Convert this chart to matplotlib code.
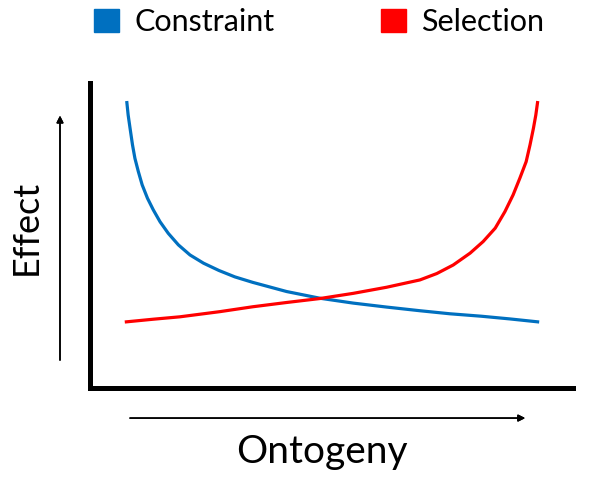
import matplotlib.pyplot as plt
from matplotlib.patches import Patch

plt.rcParams['font.family'] = ['Lato', 'DejaVu Sans']

# values, axes span 0-100 in both directions
ontogeny_constraint = [7.6, 7.9, 8.3, 8.8, 9.3, 10.0, 10.8, 11.9, 13.1, 14.5,
                       16.2, 18.3, 20.7, 23.5, 26.7, 30.0, 33.7, 40.7, 47.6,
                       54.5, 61.4, 68.3, 74.5, 81.0, 87.0, 93.0]
effect_constraint = [94.1, 89.5, 85.1, 79.7, 75.3, 71.0, 66.6, 62.2, 58.4, 54.5,
                     50.7, 46.9, 43.6, 40.9, 38.5, 36.4, 34.6, 31.6, 29.4,
                     27.8, 26.5, 25.3, 24.3, 23.5, 22.6, 21.6]

ontogeny_selection = [7.2, 13.0, 18.6, 26.9, 33.7, 40.7, 47.6, 54.5, 61.4, 68.3,
                      71.8, 75.2, 78.7, 81.4, 83.9, 85.9, 87.6, 89.0, 90.3,
                      91.1, 91.8, 92.3, 92.7]
effect_selection = [21.6, 22.5, 23.3, 25.0, 26.6, 28.0, 29.3, 31.0, 33.0, 35.4,
                    37.5, 40.3, 44.2, 48.0, 52.4, 57.8, 63.3, 68.8, 74.2,
                    79.7, 85.1, 89.5, 94.1]

labels = ['Constraint', 'Selection']
colors = ['#0070C0', '#FF0000']

fig = plt.figure(figsize=(6, 4.8), dpi=100)
ax = fig.add_axes([0.15, 0.192, 0.805, 0.635])

ax.plot(ontogeny_constraint, effect_constraint, color=colors[0], lw=2.3,
        solid_capstyle='butt', solid_joinstyle='round')
ax.plot(ontogeny_selection, effect_selection, color=colors[1], lw=2.3,
        solid_capstyle='butt', solid_joinstyle='round')

ax.set_xlim(0, 100)
ax.set_ylim(0, 100)
ax.set_xticks([])
ax.set_yticks([])
for side in ['top', 'right']:
    ax.spines[side].set_visible(False)
for side in ['left', 'bottom']:
    ax.spines[side].set_linewidth(3.6)

# direction arrows outside the axes
arrow = dict(arrowstyle='-|>', color='black', lw=1.1, mutation_scale=10)
fig.add_artist(plt.annotate('', xy=(0.1, 0.765), xytext=(0.1, 0.244),
                            xycoords='figure fraction', arrowprops=arrow))
fig.add_artist(plt.annotate('', xy=(0.88, 0.129), xytext=(0.212, 0.129),
                            xycoords='figure fraction', arrowprops=arrow))

fig.text(0.537, 0.058, 'Ontogeny', ha='center', va='center', fontsize=28)
fig.text(0.043, 0.527, 'Effect', ha='center', va='center', fontsize=26,
         rotation=90)

handles = [Patch(color=c) for c in colors]
fig.legend(handles, labels, loc='center', bbox_to_anchor=(0.532, 0.954),
           ncol=2, frameon=False, fontsize=22, handlelength=0.8,
           handleheight=0.8, handletextpad=0.5, columnspacing=3.5)

fig.savefig('out.png', dpi=100)
